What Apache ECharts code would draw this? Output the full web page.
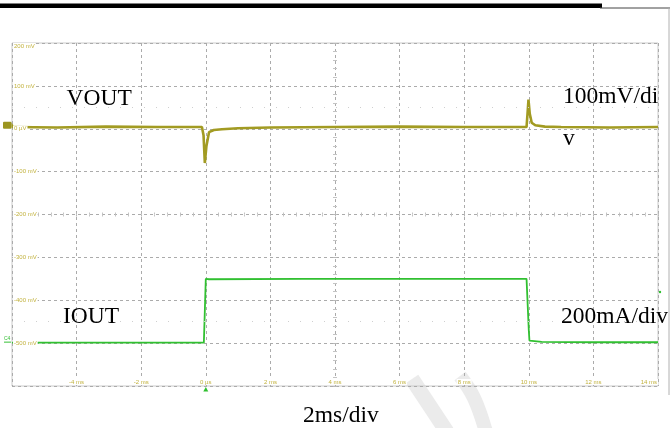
<!DOCTYPE html>
<html>
<head>
<meta charset="utf-8">
<script src="https://cdn.jsdelivr.net/npm/echarts@6/dist/echarts.min.js"></script>
<style>
html,body{margin:0;padding:0;background:#fff;}
#c{width:670px;height:428px;}
</style>
</head>
<body>
<div id="c"></div>
<script>
// ---- data (time in ms, values in screen mV units) ----
const vTime = [-6, -4.6, -3.1, -1.5, -0.12, -0.07, -0.03, 0.02, 0.1, 0.25, 0.5, 1.0, 2.0, 4.0, 6.0, 8.0, 9.93, 9.96, 9.99, 10.03, 10.09, 10.2, 10.5, 11.0, 12.5, 14];
const vOut  = [4, 3, 5, 4, 4, -15, -80, -40, -8, -3, -1, 1, 3, 4, 5, 4, 4, 35, 68, 35, 14, 8, 5, 4, 3, 4];
const iTime = [-6, -3, -0.06, 0.0, 0.1, 3, 6, 9.93, 10.0, 10.02, 10.4, 12, 14];
const iOut  = [-499, -499, -499, -350, -351, -350, -350, -350, -470, -494, -497, -498, -498];
const xTicks = [-6, -4, -2, 0, 2, 4, 6, 8, 10, 12, 14];
const yTicks = [200, 100, 0, -100, -200, -300, -400, -500, -600];
const dotRows = [50, -450];
const labels = {vout: 'VOUT', vdiv1: '100mV/di', vdiv2: 'v', iout: 'IOUT', idiv: '200mA/div', tdiv: '2ms/div'};

const chart = echarts.init(document.getElementById('c'), null, {renderer: 'canvas'});
const X_MIN = xTicks[0], X_MAX = xTicks[xTicks.length - 1];
const Y_MIN = yTicks[yTicks.length - 1], Y_MAX = yTicks[0];
const gridCol = '#ababab';
const lblCol = '#c2b23e';
const xFmt = v => v === 0 ? '0 µs' : v + ' ms';
const yFmt = v => v === 0 ? '0 µV' : v + ' mV';
const baseX = {type: 'value', min: X_MIN, max: X_MAX, interval: 2, gridIndex: 0, position: 'bottom'};
const baseY = {type: 'value', min: Y_MIN, max: Y_MAX, interval: 100, gridIndex: 0, position: 'left'};
const noAll = {axisLine: {show: false}, axisTick: {show: false}, axisLabel: {show: false}, splitLine: {show: false}};
const tickAxis = (inside, extra) => Object.assign({}, extra, {
  axisLine: {show: false}, axisLabel: {show: false}, splitLine: {show: false},
  axisTick: {show: true, inside: inside, length: 2, lineStyle: {color: '#b8b8b8'}},
  minorTick: {show: true, splitNumber: 5, length: 2, lineStyle: {color: '#c4c4c4'}}
});

chart.setOption({
  animation: false,
  backgroundColor: '#fff',
  grid: {left: 12, top: 43, width: 646, height: 343, show: true, borderColor: '#cacaca', borderWidth: 1, backgroundColor: 'transparent'},
  xAxis: [
    Object.assign({}, baseX, noAll, {splitLine: {show: true, lineStyle: {color: gridCol, type: [3, 3], width: 1}}}),
    Object.assign({}, baseX, noAll, {z: 10, axisLabel: {show: true, inside: true, margin: 1, formatter: xFmt, showMinLabel: false, alignMaxLabel: 'right',
      fontSize: 6, fontFamily: 'Liberation Sans', color: lblCol, backgroundColor: '#fff', padding: [0, 1]}}),
    tickAxis(false, Object.assign({}, baseX, {offset: -171.5})),
    tickAxis(true, Object.assign({}, baseX, {offset: -171.5}))
  ],
  yAxis: [
    Object.assign({}, baseY, noAll, {splitLine: {show: true, lineStyle: {color: gridCol, type: [3, 3], width: 1}}}),
    Object.assign({}, baseY, noAll, {z: 10, axisLabel: {show: true, inside: true, margin: 1, formatter: yFmt, showMinLabel: false, verticalAlignMaxLabel: 'top',
      fontSize: 6, fontFamily: 'Liberation Sans', color: lblCol, backgroundColor: '#fff', padding: [0, 1]}}),
    tickAxis(false, Object.assign({}, baseY, {offset: -323})),
    tickAxis(true, Object.assign({}, baseY, {offset: -323}))
  ],
  series: [
    {
      name: 'dots', type: 'line', data: [], xAxisIndex: 0, yAxisIndex: 0, silent: true,
      markLine: {silent: true, symbol: 'none', label: {show: false},
        lineStyle: {color: '#cfcfcf', type: [1, 11], width: 1.2},
        data: dotRows.map(v => ({yAxis: v}))}
    },
    {
      name: 'IOUT', type: 'line', xAxisIndex: 0, yAxisIndex: 0, showSymbol: false, z: 3,
      data: iTime.map((t, k) => [t, iOut[k]]),
      lineStyle: {color: '#31c031', width: 1.8}
    },
    {
      name: 'VOUT', type: 'line', xAxisIndex: 0, yAxisIndex: 0, showSymbol: false, z: 4,
      data: vTime.map((t, k) => [t, vOut[k]]),
      lineStyle: {color: '#a29b22', width: 2.6}
    }
  ]
});

const px = (t, v) => chart.convertToPixel({xAxisIndex: 0, yAxisIndex: 0}, [t, v]);
const p0 = px(0, Y_MIN);
const pZero = px(X_MIN, 0);
const pLow = px(X_MIN, -500);
const serif = '23.5px "Liberation Serif", "Times New Roman", serif';
const txt = (s, x, y) => ({type: 'text', z: 20, style: {text: s, x: x, y: y, font: serif, fill: '#000', textVerticalAlign: 'middle', verticalAlign: 'middle'}});

chart.setOption({
  graphic: [
    // top black bar of the page
    {type: 'rect', shape: {x: 0, y: 3.5, width: 602, height: 4.5}, style: {fill: '#000'}},
    {type: 'line', shape: {x1: 600, y1: 8, x2: 670, y2: 8}, style: {stroke: '#444', lineWidth: 1}},
    {type: 'line', shape: {x1: 669, y1: 8, x2: 669, y2: 395}, style: {stroke: '#b0b0b0', lineWidth: 1}},
    // watermark strokes
    {type: 'polyline', z: -1, shape: {points: [[412, 379], [447, 432]]}, style: {stroke: '#ebebeb', lineWidth: 15, fill: null}},
    {type: 'polyline', z: -1, shape: {points: [[460, 376], [474, 398], [486, 432]], smooth: 0.4}, style: {stroke: '#ebebeb', lineWidth: 14, fill: null}},
    // channel 1 marker
    {type: 'rect', shape: {x: 3, y: pZero[1] - 7, width: 8.5, height: 7, r: 1}, style: {fill: '#9c9520'}},
    {type: 'polygon', shape: {points: [[11.5, pZero[1] - 6], [13.5, pZero[1] - 3.5], [11.5, pZero[1] - 1]]}, style: {fill: '#9c9520'}},
    // channel 4 marker
    {type: 'text', style: {text: 'C4', x: 4, y: pLow[1] - 5, font: '5px "Liberation Sans"', fill: '#36c036', textVerticalAlign: 'middle', verticalAlign: 'middle'}},
    {type: 'line', shape: {x1: 4, y1: pLow[1] - 1, x2: 11, y2: pLow[1] - 1}, style: {stroke: '#36c036', lineWidth: 1}},
    // trigger marker
    {type: 'polygon', z: 11, shape: {points: [[p0[0], p0[1] + 1], [p0[0] - 2.5, p0[1] + 5.5], [p0[0] + 2.5, p0[1] + 5.5]]}, style: {fill: '#2fc02f'}},
    {type: 'circle', shape: {cx: 660, cy: 292, r: 1.2}, style: {fill: '#2fc02f'}},
    // annotations
    txt(labels.vout, 66.5, 99),
    txt(labels.vdiv1, 563, 96.5),
    txt(labels.vdiv2, 563, 138.5),
    txt(labels.iout, 63, 317),
    txt(labels.idiv, 561, 317),
    txt(labels.tdiv, 303, 415.5)
  ]
});
</script>
</body>
</html>
